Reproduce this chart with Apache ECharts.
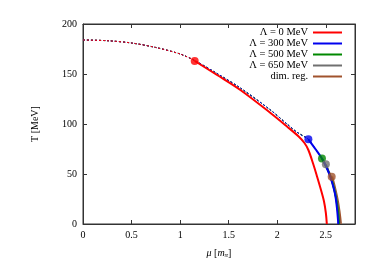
<!DOCTYPE html>
<html><head><meta charset="utf-8">
<script src="https://cdn.jsdelivr.net/npm/echarts@6/dist/echarts.min.js"></script>
<style>html,body{margin:0;padding:0;background:#fff}#c{width:390px;height:276px}</style>
</head><body><div id="c"></div>
<script>
// Crossover (shared shape), mu in m_pi, T in MeV
const crossMu = [0, 0.25, 0.5, 0.75, 1.0, 1.15, 1.38, 1.62, 1.93, 2.10, 2.20, 2.32, 2.40, 2.46, 2.50, 2.56];
const crossT  = [184, 183.3, 181, 176.5, 170, 163.5, 150.5, 136, 114, 100, 92, 84.7, 74, 65.5, 59.7, 47.3];
// Critical end points
const names = ['Λ = 0 MeV', 'Λ = 300 MeV', 'Λ = 500 MeV', 'Λ = 650 MeV', 'dim. reg.'];
const colors = ['#ff0000', '#0000ee', '#008800', '#707070', '#a0522d'];
const cepMu = [1.15, 2.32, 2.46, 2.50, 2.56];
const cepT  = [163, 84.7, 65.5, 59.7, 47.3];
// First-order lines
const fo0Mu = [1.15, 1.38, 1.62, 1.93, 2.10, 2.22, 2.28, 2.32, 2.37, 2.41, 2.45, 2.48, 2.50, 2.51];
const fo0T  = [163, 149, 134, 111, 97.5, 87.5, 81, 74, 60, 47.3, 34, 23, 11, 0];
const fo1Mu = [2.32, 2.40, 2.46, 2.51, 2.546, 2.58, 2.60, 2.615, 2.625, 2.627];
const fo1T  = [84.7, 74, 65.5, 56, 47, 36, 27, 15, 4, 0];
const fo2Mu = [2.46, 2.51, 2.55, 2.59, 2.615, 2.63, 2.635];
const fo2T  = [65.5, 56, 47, 33, 20, 8, 0];
const fo3Mu = [2.50, 2.55, 2.59, 2.615, 2.632, 2.64];
const fo3T  = [59.7, 47, 35, 22, 10, 0];
const fo4Mu = [2.56, 2.59, 2.615, 2.635, 2.645, 2.65];
const fo4T  = [47.3, 36, 25, 13, 5, 0];
const xTicks = [0, 0.5, 1, 1.5, 2, 2.5];
const yTicks = [0, 50, 100, 150, 200];

const foMu = [fo0Mu, fo1Mu, fo2Mu, fo3Mu, fo4Mu];
const foT = [fo0T, fo1T, fo2T, fo3T, fo4T];
const zip = (a, b) => a.map((v, i) => [v, b[i]]);
const font = 'Liberation Serif';

const series = [];
[4, 3, 2, 1, 0].forEach(k => {
  const pts = zip(crossMu, crossT).filter(p => p[0] <= cepMu[k] + 1e-9);
  series.push({ name: 'co' + k, type: 'line', data: pts, showSymbol: false, smooth: 0.3,
    lineStyle: { color: colors[k], width: 1, type: [2, 2] }, silent: true, z: 2 });
});
[4, 3, 2, 1, 0].forEach(k => {
  series.push({ name: names[k], type: 'line', data: zip(foMu[k], foT[k]), showSymbol: false, smooth: 0.35,
    lineStyle: { color: colors[k], width: k === 4 ? 3 : 2 }, itemStyle: { color: colors[k] }, z: 3 });
});
series.push({ type: 'scatter', data: cepMu.map((m, i) => ({ value: [m, cepT[i]], itemStyle: { color: colors[i] } })),
  symbolSize: 8, z: 5 });
series.push({ name: 'mirror', type: 'scatter', xAxisIndex: 1, yAxisIndex: 1, data: [[0, 0]], symbolSize: 0, silent: true });

const mkLine = () => ({ show: true, onZero: false, lineStyle: { color: '#333', width: 1 } });
const mkTick = () => ({ show: true, inside: true, length: 4, lineStyle: { color: '#333', width: 1 } });
const chart = echarts.init(document.getElementById('c'));
chart.setOption({
  animation: false,
  backgroundColor: '#fff',
  grid: [{ left: 83, right: 35, top: 24, bottom: 52, containLabel: false,
          show: true, borderColor: '#333', borderWidth: 1, backgroundColor: 'transparent' }],
  legend: {
    data: names.map(n => ({ name: n, icon: 'rect' })),
    orient: 'vertical', right: 48, top: 27, align: 'right',
    itemWidth: 29, itemHeight: 2, itemGap: 0,
    textStyle: { fontFamily: font, fontSize: 10.5, color: '#000', lineHeight: 10.7, padding: [0, 0, 0, 0] },
    padding: 0
  },
  xAxis: [{
    type: 'value', min: 0, max: 2.8, interval: 0.5, position: 'bottom',
    axisLine: mkLine(), axisTick: mkTick(), splitLine: { show: false },
    axisLabel: { fontFamily: font, fontSize: 10, color: '#000', margin: 6, showMaxLabel: false },
    name: '{i|μ} {n|[}{i|m}{s|π}{n|]}', nameLocation: 'middle', nameGap: 24,
    nameTextStyle: { fontFamily: font, fontSize: 10, color: '#000',
      rich: { i: { fontFamily: font, fontStyle: 'italic', fontSize: 10 }, n: { fontFamily: font, fontSize: 10 },
              s: { fontFamily: font, fontStyle: 'italic', fontSize: 7, verticalAlign: 'bottom', padding: [4, 0, 0, 0] } } }
  }, {
    type: 'value', min: 0, max: 2.8, interval: 0.5, position: 'top', show: true, gridIndex: 0,
    axisLine: mkLine(), axisTick: mkTick(), axisLabel: { show: false }, splitLine: { show: false }
  }],
  yAxis: [{
    type: 'value', min: 0, max: 200, interval: 50, position: 'left',
    axisLine: mkLine(), axisTick: mkTick(), splitLine: { show: false },
    axisLabel: { fontFamily: font, fontSize: 10, color: '#000', margin: 6 },
    name: 'T [MeV]', nameLocation: 'middle', nameGap: 43, nameRotate: 90,
    nameTextStyle: { fontFamily: font, fontSize: 10, color: '#000' }
  }, {
    type: 'value', min: 0, max: 200, interval: 50, position: 'right', show: true, gridIndex: 0,
    axisLine: mkLine(), axisTick: mkTick(), axisLabel: { show: false }, splitLine: { show: false }
  }],
  series
});
</script></body></html>
